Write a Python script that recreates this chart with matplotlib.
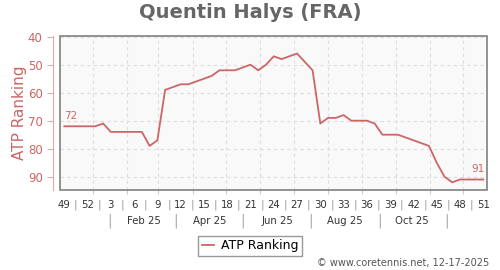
import datetime as dt
import numpy as np
from matplotlib import pyplot as plt
from matplotlib import transforms

player = "Quentin Halys (FRA)"
first_week_day = dt.date(2024, 12, 6)  # day that the first data point stands for
week_numbers = [49, 50, 51, 52] + list(range(1, 52))
ranks = [72, 72, 72, 72, 72, 71, 74, 74, 74, 74, 74, 79, 77, 59, 58, 57, 57, 56, 55, 54,
         52, 52, 52, 51, 50, 52, 50, 47, 48, 47, 46, 49, 52, 71, 69, 69, 68, 70, 70, 70,
         71, 75, 75, 75, 76, 77, 78, 79, 85, 90, 92, 91, 91, 91, 91]
month_names = ["Feb 25", "Apr 25", "Jun 25", "Aug 25", "Oct 25"]

red = "#cc6666"; frame_gray = "#808080"


def week_pos(day):
    return (day - first_week_day).days / 7


fig = plt.figure(figsize=(5, 2.7), dpi=100)
ax = fig.add_axes([0.12, 0.2963, 0.854, 0.5704])
ax.set_facecolor("#f9f9f9")

x = np.arange(len(ranks))
ax.plot(x, ranks, color=red, lw=1.3, label="ATP Ranking", zorder=4)
ax.set_xlim(-0.55, 54.48); ax.set_ylim(94.75, 39.75)

# first / last value
ax.annotate(str(ranks[0]), (x[0], ranks[0]), xytext=(0, 4), textcoords="offset points", ha="left", va="bottom", fontsize=7.5, color=red)
ax.annotate(str(ranks[-1]), (x[-1], ranks[-1]), xytext=(1, 4), textcoords="offset points", ha="right", va="bottom", fontsize=7.5, color=red)

# frame and axes
for s in ["top", "right", "bottom"]: ax.spines[s].set_visible(False)
ax.add_patch(plt.Rectangle((0, 0), 1, 1, transform=ax.transAxes, fill=False, ec=frame_gray, lw=1.2, clip_on=False, zorder=5))
ax.spines["left"].set_position(("outward", 5)); ax.spines["left"].set_color("#e3aaaa")
ax.set_yticks(np.arange(40, 100, 10))
ax.tick_params(axis="y", colors="#e3aaaa", labelcolor=red, length=4, labelsize=8.5)
ax.set_ylabel("ATP Ranking", color=red, fontsize=11)
ax.yaxis.set_label_coords(-0.078, 0.5)

month_starts = [week_pos(dt.date(2025, m, 1)) for m in range(1, 13)]
ax.set_xticks(month_starts); ax.set_xticklabels([])
ax.tick_params(axis="x", length=3, color="#cccccc")
ax.grid(True, ls=(0, (3, 3)), color="#dddddd", lw=0.8)

# week row and month row under the axis
tr = transforms.blended_transform_factory(ax.transData, fig.transFigure)
for k in range(0, len(week_numbers), 3):
    ax.text(k, 0.241, str(week_numbers[k]), transform=tr, ha="center", va="center", fontsize=7.3, color="#333333")
    if k + 3 < len(week_numbers):
        ax.text(k + 1.5, 0.241, "|", transform=tr, ha="center", va="center", fontsize=8, color="#999999")
for j, name in enumerate(month_names):
    ax.text(week_pos(dt.date(2025, 2 + 2 * j, 16)), 0.181, name, transform=tr, ha="center", va="center", fontsize=7.3, color="#333333")
for m in range(1, 13, 2):
    ax.text(week_pos(dt.date(2025, m, 16)), 0.181, "|", transform=tr, ha="center", va="center", fontsize=10, color="#aaaaaa")

fig.text(0.5, 0.952, player, ha="center", va="center", fontsize=14, weight="bold", color="#666666")
fig.legend(loc="center", bbox_to_anchor=(0.5, 0.089), fontsize=9, fancybox=False, edgecolor="#999999",
           handlelength=1.0, handletextpad=0.5, borderpad=0.3, framealpha=1)
fig.text(0.978, 0.027, "\u00a9 www.coretennis.net, 12-17-2025", ha="right", va="center", fontsize=7, color="#555555")

plt.savefig("out.png", dpi=100)
